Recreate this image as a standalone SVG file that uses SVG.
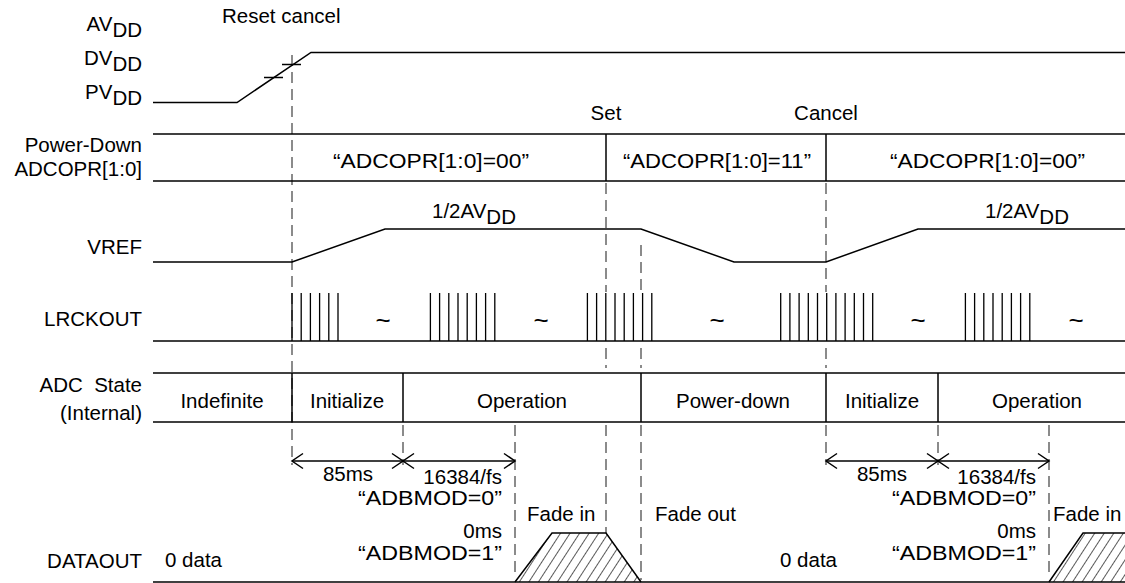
<svg xmlns="http://www.w3.org/2000/svg" width="1125" height="583" viewBox="0 0 1125 583">
<style>
text{font-family:"Liberation Sans",Arial,sans-serif;font-size:20.5px;fill:#000}
.r{text-anchor:end}
.m{text-anchor:middle}
.t{font-size:26px}
.ln{stroke:#000;stroke-width:1.5;fill:none}
.d{stroke:#666;stroke-width:1.5;stroke-dasharray:11 6;fill:none}
.p{stroke:#000;stroke-width:1.3}
</style>
<defs>
<pattern id="hatch" patternUnits="userSpaceOnUse" width="8" height="8" patternTransform="rotate(33)">
<line x1="0" y1="0" x2="0" y2="8" stroke="#000" stroke-width="1.3"/>
</pattern>
</defs>
<rect width="1125" height="583" fill="#fff"/>

<g id="labels">
<text class="r" x="142" y="31">AV<tspan dy="6">DD</tspan></text>
<text class="r" x="142" y="65">DV<tspan dy="6">DD</tspan></text>
<text class="r" x="142" y="99">PV<tspan dy="6">DD</tspan></text>
<text class="r" x="142" y="152">Power-Down</text>
<text class="r" x="142" y="176">ADCOPR[1:0]</text>
<text class="r" x="142" y="254">VREF</text>
<text class="r" x="142" y="326">LRCKOUT</text>
<text class="r" x="142" y="392" xml:space="preserve">ADC  State</text>
<text class="r" x="142" y="420">(Internal)</text>
<text class="r" x="142" y="568">DATAOUT</text>
</g>

<g id="connectors">
<line class="d" x1="292" y1="55" x2="292" y2="465"/>
<line class="d" x1="606" y1="183" x2="606" y2="292"/>
<line class="d" x1="606" y1="348" x2="606" y2="368"/>
<line class="d" x1="606" y1="425" x2="606" y2="533"/>
<line class="d" x1="641" y1="245" x2="641" y2="292"/>
<line class="d" x1="641" y1="348" x2="641" y2="368"/>
<line class="d" x1="641" y1="425" x2="641" y2="580"/>
<line class="d" x1="826" y1="183" x2="826" y2="292"/>
<line class="d" x1="826" y1="348" x2="826" y2="368"/>
<line class="d" x1="826" y1="425" x2="826" y2="465"/>
<line class="d" x1="403" y1="425" x2="403" y2="465"/>
<line class="d" x1="938" y1="425" x2="938" y2="465"/>
<line class="d" x1="515" y1="425" x2="515" y2="572"/>
<line class="d" x1="1049" y1="425" x2="1049" y2="572"/>
</g>

<g id="supply">
<text x="222" y="23">Reset cancel</text>
<polyline class="ln" points="153,102.5 237,102.5 311,52.5 1125,52.5"/>
<line class="ln" x1="282" y1="64.5" x2="301" y2="64.5"/>
<line class="ln" x1="264" y1="77.5" x2="283" y2="77.5"/>
</g>

<g id="powerdown">
<text class="m" x="606" y="120">Set</text>
<text class="m" x="826" y="120">Cancel</text>
<line class="ln" x1="153" y1="134" x2="1125" y2="134"/>
<line class="ln" x1="153" y1="181" x2="1125" y2="181"/>
<line class="ln" x1="606" y1="134" x2="606" y2="181"/>
<line class="ln" x1="826" y1="134" x2="826" y2="181"/>
<text x="333" y="168" textLength="196" lengthAdjust="spacingAndGlyphs">“ADCOPR[1:0]=00”</text>
<text x="623" y="168" textLength="188" lengthAdjust="spacingAndGlyphs">“ADCOPR[1:0]=11”</text>
<text x="890" y="168" textLength="195" lengthAdjust="spacingAndGlyphs">“ADCOPR[1:0]=00”</text>
</g>

<g id="vref">
<polyline class="ln" points="153,262 292,262 385,229 641,229 734,262 826,262 918,229 1125,229"/>
<text x="432" y="218">1/2AV<tspan dy="6">DD</tspan></text>
<text x="985" y="218">1/2AV<tspan dy="6">DD</tspan></text>
</g>

<g id="lrckout">
<line class="ln" x1="153" y1="341" x2="1125" y2="341"/>
<path class="p" d="M292,293V341M301.2,293V341M310.4,293V341M319.6,293V341M328.8,293V341M338,293V341
M430.4,293V341M439.6,293V341M448.8,293V341M458,293V341M467.2,293V341M476.4,293V341M485.6,293V341M494.8,293V341
M587.4,293V341M596.6,293V341M605.8,293V341M615,293V341M624.2,293V341M633.4,293V341M642.6,293V341M651.8,293V341
M780.7,293V341M789.9,293V341M799.1,293V341M808.3,293V341M817.5,293V341M826.7,293V341M835.9,293V341M845.1,293V341M854.3,293V341M863.5,293V341M872.7,293V341
M965.4,293V341M974.6,293V341M983.8,293V341M993,293V341M1002.2,293V341M1011.4,293V341M1020.6,293V341M1029.8,293V341"/>
<text class="m t" x="383" y="329">~</text>
<text class="m t" x="541" y="329">~</text>
<text class="m t" x="717" y="329">~</text>
<text class="m t" x="918" y="329">~</text>
<text class="m t" x="1076" y="329">~</text>
</g>

<g id="adcstate">
<line class="ln" x1="153" y1="373" x2="1125" y2="373"/>
<line class="ln" x1="153" y1="422" x2="1125" y2="422"/>
<path class="ln" d="M292,373V422M403,373V422M641,373V422M826,373V422M938,373V422"/>
<text class="m" x="222" y="408">Indefinite</text>
<text class="m" x="347" y="408">Initialize</text>
<text class="m" x="522" y="408">Operation</text>
<text class="m" x="733" y="408">Power-down</text>
<text class="m" x="882" y="408">Initialize</text>
<text class="m" x="1037" y="408">Operation</text>
</g>

<g id="timing1">
<line class="ln" x1="292" y1="461" x2="515" y2="461"/>
<path class="ln" d="M303,453.5L292,461L303,468.5M392,453.5L403,461L392,468.5M414,453.5L403,461L414,468.5M504,453.5L515,461L504,468.5"/>
<text class="m" x="348" y="481">85ms</text>
<text class="r" x="502" y="484">16384/fs</text>
<text x="358" y="505" textLength="144" lengthAdjust="spacingAndGlyphs">“ADBMOD=0”</text>
<text class="r" x="502" y="538">0ms</text>
<text x="358" y="560" textLength="144" lengthAdjust="spacingAndGlyphs">“ADBMOD=1”</text>
</g>

<g id="timing2">
<line class="ln" x1="826" y1="461" x2="1049" y2="461"/>
<path class="ln" d="M837,453.5L826,461L837,468.5M927,453.5L938,461L927,468.5M949,453.5L938,461L949,468.5M1038,453.5L1049,461L1038,468.5"/>
<text class="m" x="882" y="481">85ms</text>
<text class="r" x="1036" y="484">16384/fs</text>
<text x="892" y="505" textLength="144" lengthAdjust="spacingAndGlyphs">“ADBMOD=0”</text>
<text class="r" x="1036" y="538">0ms</text>
<text x="892" y="560" textLength="144" lengthAdjust="spacingAndGlyphs">“ADBMOD=1”</text>
</g>

<g id="dataout">
<line class="ln" x1="153" y1="582" x2="1125" y2="582"/>
<text x="165" y="567">0 data</text>
<text x="780" y="567">0 data</text>
<text x="527" y="521">Fade in</text>
<text x="655" y="521">Fade out</text>
<text x="1053" y="521">Fade in</text>
<polygon points="515,582 552,533 606,533 641,582" fill="url(#hatch)" stroke="none"/>
<polyline class="ln" points="515,582 552,533 606,533 641,582"/>
<polygon points="1049,582 1083,533 1125,533 1125,582" fill="url(#hatch)" stroke="none"/>
<polyline class="ln" points="1049,582 1083,533 1125,533"/>
</g>
</svg>
